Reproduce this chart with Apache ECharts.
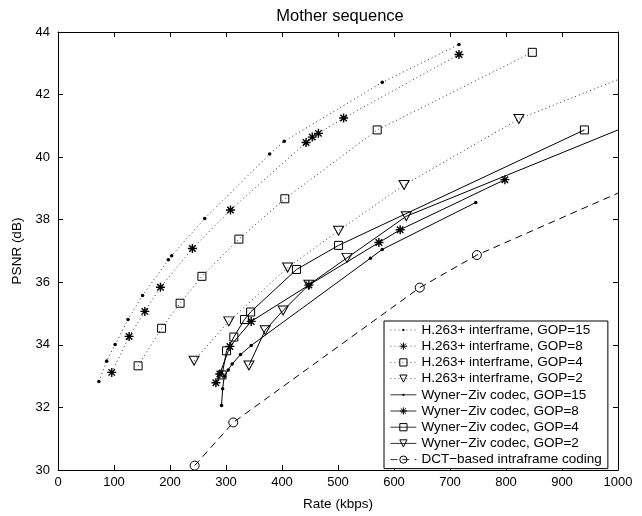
<!DOCTYPE html>
<html>
<head>
<meta charset="utf-8">
<script src="https://cdn.jsdelivr.net/npm/echarts@6/dist/echarts.min.js"></script>
<style>
html,body{margin:0;padding:0;background:#fff;}
#chart{width:642px;height:516px;}
</style>
</head>
<body>
<div id="chart"></div>
<script>
// ---- data (rate kbps, PSNR dB) ----
const h263Gop15 = [[73,32.83],[87,33.48],[102,34.01],[125,34.81],[151,35.58],[197,36.72],[203,36.85],[262,38.04],[378,40.10],[404,40.51],[579,42.39],[716,43.60]];
const h263Gop8  = [[96,33.12],[127,34.27],[155,35.07],[183,35.84],[240,37.08],[308,38.31],[443,40.47],[454,40.64],[465,40.76],[510,41.25],[716,43.28]];
const h263Gop4  = [[143,33.33],[185,34.53],[218,35.33],[257,36.19],[323,37.38],[405,38.67],[570,40.87],[847,43.35]];
const h263Gop2  = [[243,33.49],[305,34.75],[410,36.47],[501,37.65],[618,39.11],[823,41.22],[1000,42.48]];
const wzGop15   = [[292,32.06],[294,32.60],[297,33.00],[304,33.20],[311,33.39],[326,33.69],[345,33.98],[558,36.77],[579,37.05],[746,38.55]];
const wzGop8    = [[282,32.79],[289,33.07],[307,33.95],[345,34.75],[448,35.91],[573,37.27],[611,37.68],[798,39.28]];
const wzGop4    = [[293,33.04],[301,33.81],[314,34.25],[333,34.81],[344,35.05],[426,36.41],[501,37.18],[940,40.87]];
const wzGop2    = [[341,33.34],[370,34.47],[402,35.10],[448,35.92],[516,36.78],[622,38.11],[1000,40.87]];
const dctIntra  = [[244,30.14],[313,31.52],[646,35.83],[748,36.87],[1000,38.85]];
// points where the curve only runs to the plot edge (no marker)
const edgeOnly = {h263Gop2: [6], wzGop2: [6], dctIntra: [4]};

const seriesNames = [
  'H.263+ interframe, GOP=15',
  'H.263+ interframe, GOP=8',
  'H.263+ interframe, GOP=4',
  'H.263+ interframe, GOP=2',
  'Wyner\u2212Ziv codec, GOP=15',
  'Wyner\u2212Ziv codec, GOP=8',
  'Wyner\u2212Ziv codec, GOP=4',
  'Wyner\u2212Ziv codec, GOP=2',
  'DCT\u2212based intraframe coding'
];
const xTicks = {min:0, max:1000, interval:100};
const yTicks = {min:30, max:44, interval:2};

const FONT = 'Liberation Sans, Arial, Helvetica, sans-serif';
const STAR = 'path://M-1 0 L1 0 M0 -1 L0 1 M-0.72 -0.72 L0.72 0.72 M-0.72 0.72 L0.72 -0.72';
// small dot padded inside a larger (invisible) box so it stays tiny
const DOT = 'path://M-1 -1 M1 1 M-0.32 0 A0.32 0.32 0 1 1 0.32 0 A0.32 0.32 0 1 1 -0.32 0 Z';
const DOT_LINE = [1, 3];

function toData(arr, edges) {
  return arr.map((p, i) => (edges && edges.indexOf(i) >= 0) ? {value: p, symbol: 'none'} : p);
}

const markers = {
  dot:  {symbol: DOT, symbolSize: 11, itemStyle: {color: '#000', borderWidth: 0}},
  star: {symbol: STAR, symbolSize: 9, itemStyle: {color: 'transparent', borderColor: '#000', borderWidth: 1.4}},
  sq:   {symbol: 'rect', symbolSize: 8, itemStyle: {color: 'transparent', borderColor: '#000', borderWidth: 1}},
  tri:  {symbol: 'triangle', symbolSize: [10, 9], symbolRotate: 180, itemStyle: {color: 'transparent', borderColor: '#000', borderWidth: 1}},
  circ: {symbol: 'circle', symbolSize: 9, itemStyle: {color: 'transparent', borderColor: '#000', borderWidth: 1}}
};

function mk(name, data, marker, lineType, lineColor) {
  const m = markers[marker];
  const s = {
    name: name,
    type: 'line',
    data: data,
    symbol: m.symbol,
    symbolSize: m.symbolSize,
    showSymbol: true,
    showAllSymbol: true,
    clip: true,
    animation: false,
    lineStyle: {color: lineColor || '#000', width: 1, type: lineType},
    itemStyle: m.itemStyle,
    emphasis: {disabled: true},
    z: 3
  };
  if (m.symbolRotate) s.symbolRotate = m.symbolRotate;
  return s;
}

const series = [
  mk(seriesNames[0], toData(h263Gop15), 'dot', DOT_LINE, '#333'),
  mk(seriesNames[1], toData(h263Gop8), 'star', DOT_LINE, '#333'),
  mk(seriesNames[2], toData(h263Gop4), 'sq', DOT_LINE, '#333'),
  mk(seriesNames[3], toData(h263Gop2, edgeOnly.h263Gop2), 'tri', DOT_LINE, '#333'),
  mk(seriesNames[4], toData(wzGop15), 'dot', 'solid'),
  mk(seriesNames[5], toData(wzGop8), 'star', 'solid'),
  mk(seriesNames[6], toData(wzGop4), 'sq', 'solid'),
  mk(seriesNames[7], toData(wzGop2, edgeOnly.wzGop2), 'tri', 'solid'),
  mk(seriesNames[8], toData(dctIntra, edgeOnly.dctIntra), 'circ', [7, 5])
];

const axisLine = {show: true, onZero: false, lineStyle: {color: '#000', width: 1}};
const tickIn = {show: true, inside: true, length: 5, lineStyle: {color: '#000', width: 1}};
const lbl = {color: '#000', fontFamily: FONT, fontSize: 13, formatter: v => String(v)};

const chart = echarts.init(document.getElementById('chart'), null, {renderer: 'canvas'});
chart.setOption({
  animation: false,
  backgroundColor: '#fff',
  title: {
    text: 'Mother sequence',
    left: 335, top: 3, textAlign: 'center',
    textStyle: {fontFamily: FONT, fontSize: 16.5, fontWeight: 'normal', color: '#000'}
  },
  grid: {left: 58, top: 32, width: 560, height: 440, containLabel: false},
  xAxis: [
    {type: 'value', position: 'bottom', min: xTicks.min, max: xTicks.max, interval: xTicks.interval,
     name: 'Rate (kbps)', nameLocation: 'middle', nameGap: 27,
     nameTextStyle: {color: '#000', fontFamily: FONT, fontSize: 13.5},
     axisLine: axisLine, axisTick: tickIn, axisLabel: Object.assign({margin: 6}, lbl), splitLine: {show: false}},
    {type: 'value', position: 'top', min: xTicks.min, max: xTicks.max, interval: xTicks.interval,
     axisLine: axisLine, axisTick: tickIn, axisLabel: {show: false}, splitLine: {show: false}}
  ],
  yAxis: [
    {type: 'value', position: 'left', min: yTicks.min, max: yTicks.max, interval: yTicks.interval,
     name: 'PSNR (dB)', nameLocation: 'middle', nameGap: 34,
     nameTextStyle: {color: '#000', fontFamily: FONT, fontSize: 13.5},
     axisLine: axisLine, axisTick: tickIn, axisLabel: Object.assign({margin: 8}, lbl), splitLine: {show: false}},
    {type: 'value', position: 'right', min: yTicks.min, max: yTicks.max, interval: yTicks.interval,
     axisLine: axisLine, axisTick: tickIn, axisLabel: {show: false}, splitLine: {show: false}}
  ],
  legend: {
    show: true,
    data: seriesNames,
    orient: 'vertical',
    left: 384, top: 321,
    padding: [2, 6, 2, 6],
    itemWidth: 26, itemHeight: 9, itemGap: 2.2,
    itemStyle: {borderWidth: 1},
    lineStyle: {width: 0.8},
    backgroundColor: '#fff',
    borderColor: '#000', borderWidth: 1,
    selectedMode: false,
    textStyle: {color: '#000', fontFamily: FONT, fontSize: 13.5}
  },
  tooltip: {show: false},
  series: series
});
</script>
</body>
</html>
